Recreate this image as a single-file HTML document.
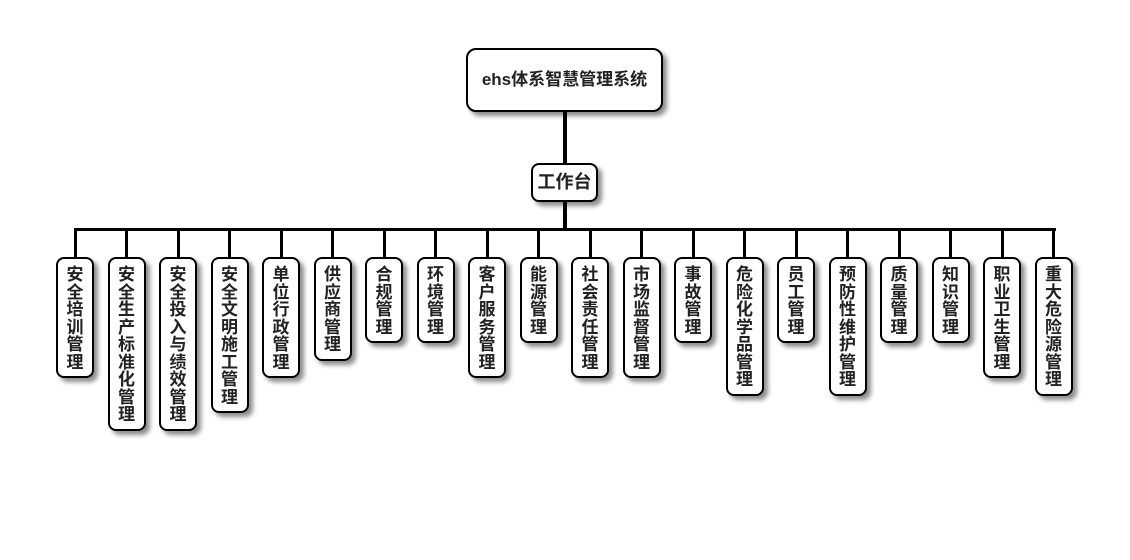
<!DOCTYPE html>
<html>
<head>
<meta charset="utf-8">
<style>
html,body{margin:0;padding:0;background:#fff;}
body{width:1130px;height:560px;position:relative;overflow:hidden;font-family:"Liberation Sans","Noto Sans CJK SC","WenQuanYi Zen Hei",sans-serif;}
.ln{position:absolute;background:#000;}
.box{position:absolute;box-sizing:border-box;border:2px solid #000;background:#fff;border-radius:8px;box-shadow:4px 4px 5px rgba(0,0,0,0.45);color:#222;font-weight:bold;text-align:center;}
.v{width:38px;top:257px;font-size:17px;line-height:17.5px;padding-top:7px;}
</style>
</head>
<body>
<!-- connectors -->
<div class="ln" style="left:563px;top:110px;width:4px;height:55px;"></div>
<div class="ln" style="left:563px;top:200px;width:4px;height:30px;"></div>
<div class="ln" style="left:74px;top:228px;width:982px;height:3px;"></div>

<div class="box" style="left:466px;top:48px;width:197px;height:64px;border-radius:10px;font-size:17px;line-height:60px;">ehs体系智慧管理系统</div>
<div class="box" style="left:531px;top:163px;width:67px;height:39px;font-size:18px;line-height:35px;">工作台</div>

<div id="kids"></div>
<script>
var items=["安全培训管理","安全生产标准化管理","安全投入与绩效管理","安全文明施工管理","单位行政管理","供应商管理","合规管理","环境管理","客户服务管理","能源管理","社会责任管理","市场监督管理","事故管理","危险化学品管理","员工管理","预防性维护管理","质量管理","知识管理","职业卫生管理","重大危险源管理"];
var h="";
for(var i=0;i<items.length;i++){
  var c=75+i*51.5;
  var n=items[i].length;
  var ht=16+17.5*n;
  h+='<div class="ln" style="left:'+(c-1.5)+'px;top:229px;width:3px;height:29px;"></div>';
  h+='<div class="box v" style="left:'+(c-19)+'px;height:'+ht+'px;">'+items[i].split("").join("<br>")+'</div>';
}
document.getElementById("kids").innerHTML=h;
</script>
</body>
</html>
